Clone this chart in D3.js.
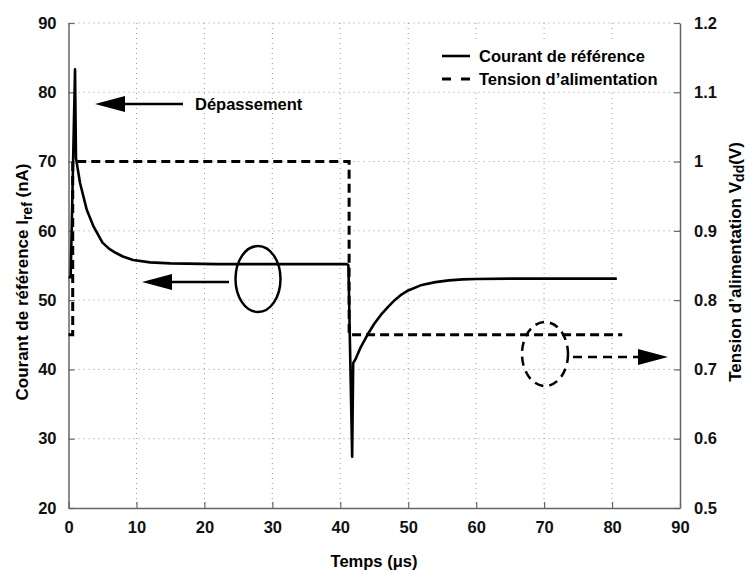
<!DOCTYPE html>
<html><head><meta charset="utf-8">
<script src="https://cdn.jsdelivr.net/npm/d3@7"></script>
<style>body{margin:0;background:#fff}svg{display:block}text{font-family:"Liberation Sans",Arial,sans-serif;font-weight:bold}</style>
</head><body><svg id="c" width="750" height="572"></svg>
<script>
// Data
const courantT = [0, 0.32, 0.96, 1.1, 1.7, 2.7, 3.7, 5.0, 6.0, 7.0, 8.0, 9.5, 12, 15, 22, 30, 41.0, 41.2, 41.75, 41.9, 42.3, 43, 44, 45, 46, 47, 48, 49, 50, 52, 54, 56, 58, 60, 65, 80.7];
const courantI = [53.3, 53.3, 83.3, 70.5, 66.9, 63.0, 60.6, 58.3, 57.4, 56.8, 56.3, 55.8, 55.45, 55.3, 55.2, 55.2, 55.2, 55.0, 27.4, 40.9, 41.6, 43.2, 45.0, 46.6, 47.9, 49.0, 50.0, 50.8, 51.4, 52.2, 52.6, 52.85, 53.0, 53.05, 53.1, 53.1];
const tensionT = [0, 0.62, 0.62, 41.3, 41.3, 81.5];
const tensionV = [0.75, 0.75, 1.0, 1.0, 0.75, 0.75];
const xTicks = [0,10,20,30,40,50,60,70,80,90];
const yLeftTicks = [20,30,40,50,60,70,80,90];
const yRightTicks = [0.5,0.6,0.7,0.8,0.9,1,1.1,1.2];
const legendLabels = ["Courant de référence", "Tension d’alimentation"];

const FS = 16.5;
const svg = d3.select("#c");
const L = 68.5, R = 680, T = 23, B = 508;
const x = d3.scaleLinear().domain([0,90]).range([L,R]);
const yL = d3.scaleLinear().domain([20,90]).range([B,T]);
const yR = d3.scaleLinear().domain([0.5,1.2]).range([B,T]);

// grid
const g = svg.append("g");
g.selectAll(".gx").data(xTicks.slice(1,-1)).enter().append("line")
 .attr("x1",d=>x(d)).attr("x2",d=>x(d)).attr("y1",T).attr("y2",B)
 .attr("stroke","#999").attr("stroke-width",1).attr("stroke-dasharray","1,4");
g.selectAll(".gy").data(yLeftTicks.slice(1)).enter().append("line")
 .attr("y1",d=>yL(d)).attr("y2",d=>yL(d)).attr("x1",L).attr("x2",R)
 .attr("stroke","#999").attr("stroke-width",1).attr("stroke-dasharray","1,4");

// axes
const axB = svg.append("g").attr("transform",`translate(0,${B})`)
 .call(d3.axisBottom(x).tickValues(xTicks).tickSizeInner(-6).tickSizeOuter(0).tickPadding(13));
const axL = svg.append("g").attr("transform",`translate(${L},0)`)
 .call(d3.axisLeft(yL).tickValues(yLeftTicks).tickSizeInner(-6).tickSizeOuter(0).tickPadding(12));
const axR = svg.append("g").attr("transform",`translate(${R},0)`)
 .call(d3.axisRight(yR).tickValues(yRightTicks).tickFormat(d3.format("~g")).tickSizeInner(-6).tickSizeOuter(0).tickPadding(14));
[axB,axL,axR].forEach(a=>{
  a.selectAll("path").attr("stroke","#666").attr("stroke-width",1.5);
  a.selectAll("line").attr("stroke","#666").attr("stroke-width",1.2);
  a.selectAll("text").attr("font-size",FS).attr("font-weight","bold").attr("fill","#111")
   .style("font-family","'Liberation Sans',Arial,sans-serif");
});

// lines
const lineI = d3.line().x((d,i)=>x(courantT[i])).y((d,i)=>yL(courantI[i]));
svg.append("path").attr("d",lineI(courantT)).attr("fill","none").attr("stroke","#000").attr("stroke-width",2.6).attr("stroke-linejoin","round");
const lineV = d3.line().x((d,i)=>x(tensionT[i])).y((d,i)=>yR(tensionV[i]));
svg.append("path").attr("d",lineV(tensionT)).attr("fill","none").attr("stroke","#000").attr("stroke-width",3).attr("stroke-dasharray","9,5");

// legend
svg.append("rect").attr("x",412).attr("y",43).attr("width",265).attr("height",46).attr("fill","#fff");
svg.append("line").attr("x1",442).attr("x2",470).attr("y1",56).attr("y2",56).attr("stroke","#000").attr("stroke-width",2.6);
svg.append("line").attr("x1",442).attr("x2",470).attr("y1",79).attr("y2",79).attr("stroke","#000").attr("stroke-width",3).attr("stroke-dasharray","9,10");
legendLabels.forEach((t,i)=>svg.append("text").attr("x",479).attr("y",62+i*23).attr("font-size",FS).attr("fill","#000").text(t));

// annotations
function arrow(x1,x2,y,dash){
  const b = x2<x1? x2+30 : x2-30;
  svg.append("line").attr("x1",x1).attr("x2",b).attr("y1",y).attr("y2",y).attr("stroke","#000").attr("stroke-width",2.5).attr("stroke-dasharray",dash?"9,6":null);
  svg.append("path").attr("d",`M${x2},${y} L${b},${y-8} L${b},${y+8} Z`).attr("fill","#000");
}
arrow(183,95,104,false);
svg.append("text").attr("x",195).attr("y",110).attr("font-size",FS).attr("fill","#000").text("Dépassement");
svg.append("ellipse").attr("cx",258).attr("cy",279).attr("rx",22.5).attr("ry",33).attr("fill","none").attr("stroke","#000").attr("stroke-width",2.5);
arrow(229,142,282,false);
svg.append("ellipse").attr("cx",545).attr("cy",354).attr("rx",23).attr("ry",32).attr("fill","none").attr("stroke","#000").attr("stroke-width",2.5).attr("stroke-dasharray","9,6");
arrow(573,668,357,true);

// axis titles
svg.append("text").attr("x",374).attr("y",567).attr("text-anchor","middle").attr("font-size",FS).attr("fill","#000").text("Temps (μs)");
const tl = svg.append("text").attr("transform","translate(28,282) rotate(-90)").attr("text-anchor","middle").attr("font-size",17).attr("fill","#000");
tl.append("tspan").text("Courant de référence I");
tl.append("tspan").attr("font-size",14).attr("dy",4).text("ref");
tl.append("tspan").attr("dy",-4).text(" (nA)");
const tr = svg.append("text").attr("transform","translate(741,262) rotate(-90)").attr("text-anchor","middle").attr("font-size",17).attr("fill","#000");
tr.append("tspan").text("Tension d’alimentation V");
tr.append("tspan").attr("font-size",14).attr("dy",3).text("dd");
tr.append("tspan").attr("dy",-3).text("(V)");
</script></body></html>
